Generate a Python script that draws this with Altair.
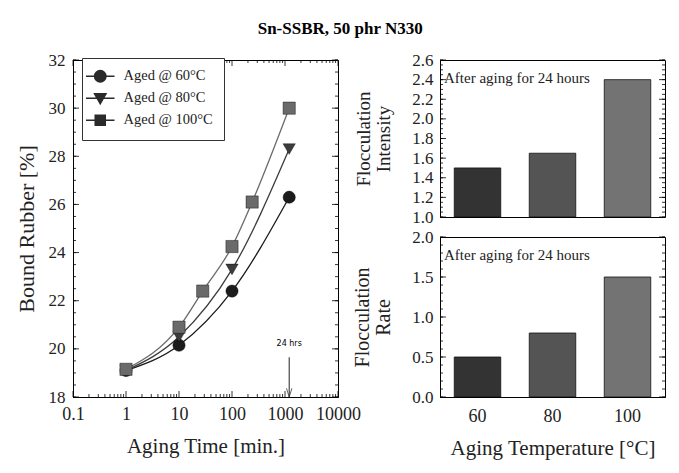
import altair as alt
import pandas as pd

# ---------------- data ----------------
series_labels = ["Aged @ 60°C", "Aged @ 80°C", "Aged @ 100°C"]
time_60 = [1, 10, 100, 1200]
br_60 = [19.1, 20.15, 22.4, 26.3]
time_80 = [1, 10, 100, 1200]
br_80 = [19.1, 20.5, 23.3, 28.3]
time_100 = [1, 10, 28, 100, 240, 1200]
br_100 = [19.15, 20.9, 22.4, 24.25, 26.1, 30.0]

x_tick_values = [0.1, 1, 10, 100, 1000, 10000]
y_tick_values = [18, 20, 22, 24, 26, 28, 30, 32]

temps = ["60", "80", "100"]
intensity = [1.5, 1.65, 2.4]
rate = [0.5, 0.8, 1.5]
intensity_ticks = [1.0, 1.2, 1.4, 1.6, 1.8, 2.0, 2.2, 2.4, 2.6]
rate_ticks = [0.0, 0.5, 1.0, 1.5, 2.0]

arrow_time = [1200]
note_text = ["After aging for 24 hours"]

SERIF = "Liberation Serif"

rows = []
for lab, ts, vs in zip(series_labels, [time_60, time_80, time_100], [br_60, br_80, br_100]):
    for t, v in zip(ts, vs):
        rows.append({"t": t, "br": v, "series": lab})
df_left = pd.DataFrame(rows)

color_scale = alt.Scale(domain=series_labels, range=["#1c1c1c", "#3c3c3c", "#6a6a6a"])
shape_scale = alt.Scale(domain=series_labels, range=["circle", "triangle-down", "square"])
# legend symbols: marker with a line segment through it
SEG = "M-2.5,0H2.5"
legend_shape_scale = alt.Scale(domain=series_labels, range=[
    SEG + "M-1,0A1,1 0 1,0 1,0A1,1 0 1,0 -1,0Z",
    SEG + "M-1,-0.8L1,-0.8L0,0.95Z",
    SEG + "M-0.88,-0.88H0.88V0.88H-0.88Z",
])

x_scale = alt.Scale(type="log", domain=[0.1, 10000], nice=False)
y_scale = alt.Scale(domain=[18, 32], nice=False, zero=False)

X_AXIS = alt.Axis(values=x_tick_values, format="~g", title="Aging Time [min.]",
                  grid=False, ticks=False, labelPadding=8, titlePadding=12,
                  labelOverlap=False, labelFlush=False, titleFontSize=21)
Y_AXIS = alt.Axis(values=y_tick_values, title="Bound Rubber [%]", grid=False,
                  ticks=False, labelPadding=8, titlePadding=10, titleFontSize=22)

LEG = alt.Legend(title=None, orient="none", legendX=9, legendY=-2)

LW, LH = 265, 337

base = alt.Chart(df_left)
lines = base.mark_line(interpolate="monotone", strokeWidth=1.3).encode(
    x=alt.X("t:Q", scale=x_scale, axis=X_AXIS),
    y=alt.Y("br:Q", scale=y_scale, axis=Y_AXIS),
    color=alt.Color("series:N", scale=color_scale, legend=None),
    detail="series:N",
)
points = base.mark_point(filled=True, opacity=1, size=150, stroke="#000", strokeWidth=0.4).encode(
    x=alt.X("t:Q", scale=x_scale, axis=X_AXIS),
    y=alt.Y("br:Q", scale=y_scale, axis=Y_AXIS),
    color=alt.Color("series:N", scale=color_scale, legend=None),
    shape=alt.Shape("series:N", scale=shape_scale, legend=None),
)
# draws nothing (all rows filtered out); it only carries the legend
legend_layer = base.mark_point(filled=True, opacity=1, size=130, color="#2a2a2a",
                               stroke="#2a2a2a", strokeWidth=1.1).encode(
    x=alt.X("t:Q", scale=x_scale, axis=X_AXIS),
    y=alt.Y("br:Q", scale=y_scale, axis=Y_AXIS),
    shape=alt.Shape("series:N", scale=legend_shape_scale, legend=LEG),
).transform_filter("datum.br < 0")

df_arrow = pd.DataFrame({"t": arrow_time, "br": [18.0], "y1": [19.65], "ylab": [20.05]})
arrow_line = alt.Chart(df_arrow).mark_rule(color="#222", strokeWidth=1).encode(
    x=alt.X("t:Q", scale=x_scale, axis=X_AXIS), y=alt.Y("br:Q", scale=y_scale, axis=Y_AXIS),
    y2="y1:Q")
arrow_head = alt.Chart(df_arrow).mark_point(
    shape="M-0.5,-1.6L0,0L0.5,-1.6", filled=False, stroke="#222", strokeWidth=1, size=120,
).encode(x=alt.X("t:Q", scale=x_scale, axis=X_AXIS), y=alt.Y("br:Q", scale=y_scale, axis=Y_AXIS))
arrow_text = alt.Chart(df_arrow).mark_text(font="DejaVu Sans", fontSize=8, text="24 hrs",
                                           baseline="bottom").encode(
    x=alt.X("t:Q", scale=x_scale, axis=X_AXIS), y=alt.Y("ylab:Q", scale=y_scale, axis=Y_AXIS))

# inner ticks (left panel)
minor_x = [m * 10 ** e for e in [-1, 0, 1, 2, 3] for m in range(2, 10)]
minor_y = [18 + 0.5 * i for i in range(29)]


def xticks(vals, length):
    d = pd.DataFrame({"t": vals})
    bot = alt.Chart(d).mark_rule(color="#000", strokeWidth=0.8).encode(
        x=alt.X("t:Q", scale=x_scale, axis=X_AXIS),
        y=alt.value(LH), y2=alt.value(LH - length))
    top = alt.Chart(d).mark_rule(color="#000", strokeWidth=0.8).encode(
        x=alt.X("t:Q", scale=x_scale, axis=X_AXIS),
        y=alt.value(0), y2=alt.value(length))
    return [bot, top]


def yticks(vals, length):
    d = pd.DataFrame({"br": vals})
    lft = alt.Chart(d).mark_rule(color="#000", strokeWidth=0.8).encode(
        y=alt.Y("br:Q", scale=y_scale, axis=Y_AXIS),
        x=alt.value(0), x2=alt.value(length))
    rgt = alt.Chart(d).mark_rule(color="#000", strokeWidth=0.8).encode(
        y=alt.Y("br:Q", scale=y_scale, axis=Y_AXIS),
        x=alt.value(LW), x2=alt.value(LW - length))
    return [lft, rgt]


tick_layers = xticks(x_tick_values, 6) + xticks(minor_x, 3) + yticks(y_tick_values, 6) + yticks(minor_y, 3)

left = alt.layer(lines, points, legend_layer, arrow_line, arrow_head, arrow_text,
                 *tick_layers).resolve_scale(shape="independent").properties(width=LW, height=LH)

# ---------------- right panels ----------------
RW = 225
bar_fill = alt.Scale(domain=temps, range=["#333333", "#545454", "#737373"])
x_band = alt.Scale(domain=temps, paddingInner=0.38, paddingOuter=0.19)


def bar_panel(values, ticks, domain, title_lines, height, show_x, minor_step, tsize):
    d = pd.DataFrame({"temp": temps, "val": values})
    ysc = alt.Scale(domain=domain, nice=False, zero=False)
    yax = alt.Axis(values=ticks, format=".1f", title=title_lines, grid=False,
                   ticks=False, labelPadding=7, titlePadding=18, titleFontSize=tsize,
                   titleLineHeight=tsize + 1)
    if show_x:
        xaxis = alt.Axis(title="Aging Temperature [°C]", labelAngle=0, ticks=False, domain=True,
                         labelPadding=10, titlePadding=12, titleFontSize=21)
    else:
        xaxis = None
    bars = alt.Chart(d).mark_bar(stroke="#111", strokeWidth=0.8, clip=True).encode(
        x=alt.X("temp:N", sort=temps, scale=x_band, axis=xaxis),
        y=alt.Y("val:Q", scale=ysc, axis=yax),
        y2=alt.datum(domain[0]),
        fill=alt.Fill("temp:N", scale=bar_fill, legend=None),
    )
    note = alt.Chart(pd.DataFrame({"note": note_text})).mark_text(
        align="left", baseline="top", font=SERIF, fontSize=15, color="#222").encode(
        text="note:N", x=alt.value(4), y=alt.value(11))
    n = int(round((domain[1] - domain[0]) / minor_step))
    minor = [domain[0] + minor_step * i for i in range(n + 1)]
    dmaj = pd.DataFrame({"val": ticks})
    dmin = pd.DataFrame({"val": minor})
    layers = []
    for dd, ln in [(dmaj, 6), (dmin, 3)]:
        layers.append(alt.Chart(dd).mark_rule(color="#000", strokeWidth=0.8).encode(
            y=alt.Y("val:Q", scale=ysc, axis=yax), x=alt.value(0), x2=alt.value(ln)))
        layers.append(alt.Chart(dd).mark_rule(color="#000", strokeWidth=0.8).encode(
            y=alt.Y("val:Q", scale=ysc, axis=yax), x=alt.value(RW), x2=alt.value(RW - ln)))
    return alt.layer(bars, note, *layers).properties(width=RW, height=height)


top_panel = bar_panel(intensity, intensity_ticks, [1.0, 2.6], ["Flocculation", "Intensity"],
                      157, False, 0.05, 19)
bottom_panel = bar_panel(rate, rate_ticks, [0.0, 2.0], ["Flocculation", "Rate"],
                         160, True, 0.1, 20)

right = alt.vconcat(top_panel, bottom_panel, spacing=20, bounds="flush").resolve_scale(
    y="independent")

chart = alt.hconcat(left, right, spacing=102, bounds="flush").resolve_scale(
    color="independent").properties(
    title=alt.TitleParams("Sn-SSBR, 50 phr N330", anchor="middle", font=SERIF,
                          fontSize=17, fontWeight="bold", offset=13),
    padding={"left": 14, "top": 19, "right": 5, "bottom": 5},
    background="white",
).configure_view(stroke="#000", strokeWidth=1).configure_axis(
    labelFont=SERIF, titleFont=SERIF, labelColor="#222", titleColor="#222",
    titleFontWeight="normal", domainColor="#000", domainWidth=1,
).configure_axisX(labelFontSize=18).configure_axisY(labelFontSize=17).configure_legend(
    labelFont=SERIF, labelFontSize=14.5, strokeColor="#333", padding=11, fillColor="white",
    symbolSize=130, rowPadding=5, labelColor="#222", labelOffset=16
)

chart.save("out.html", embed_options={"renderer": "svg", "actions": False})
